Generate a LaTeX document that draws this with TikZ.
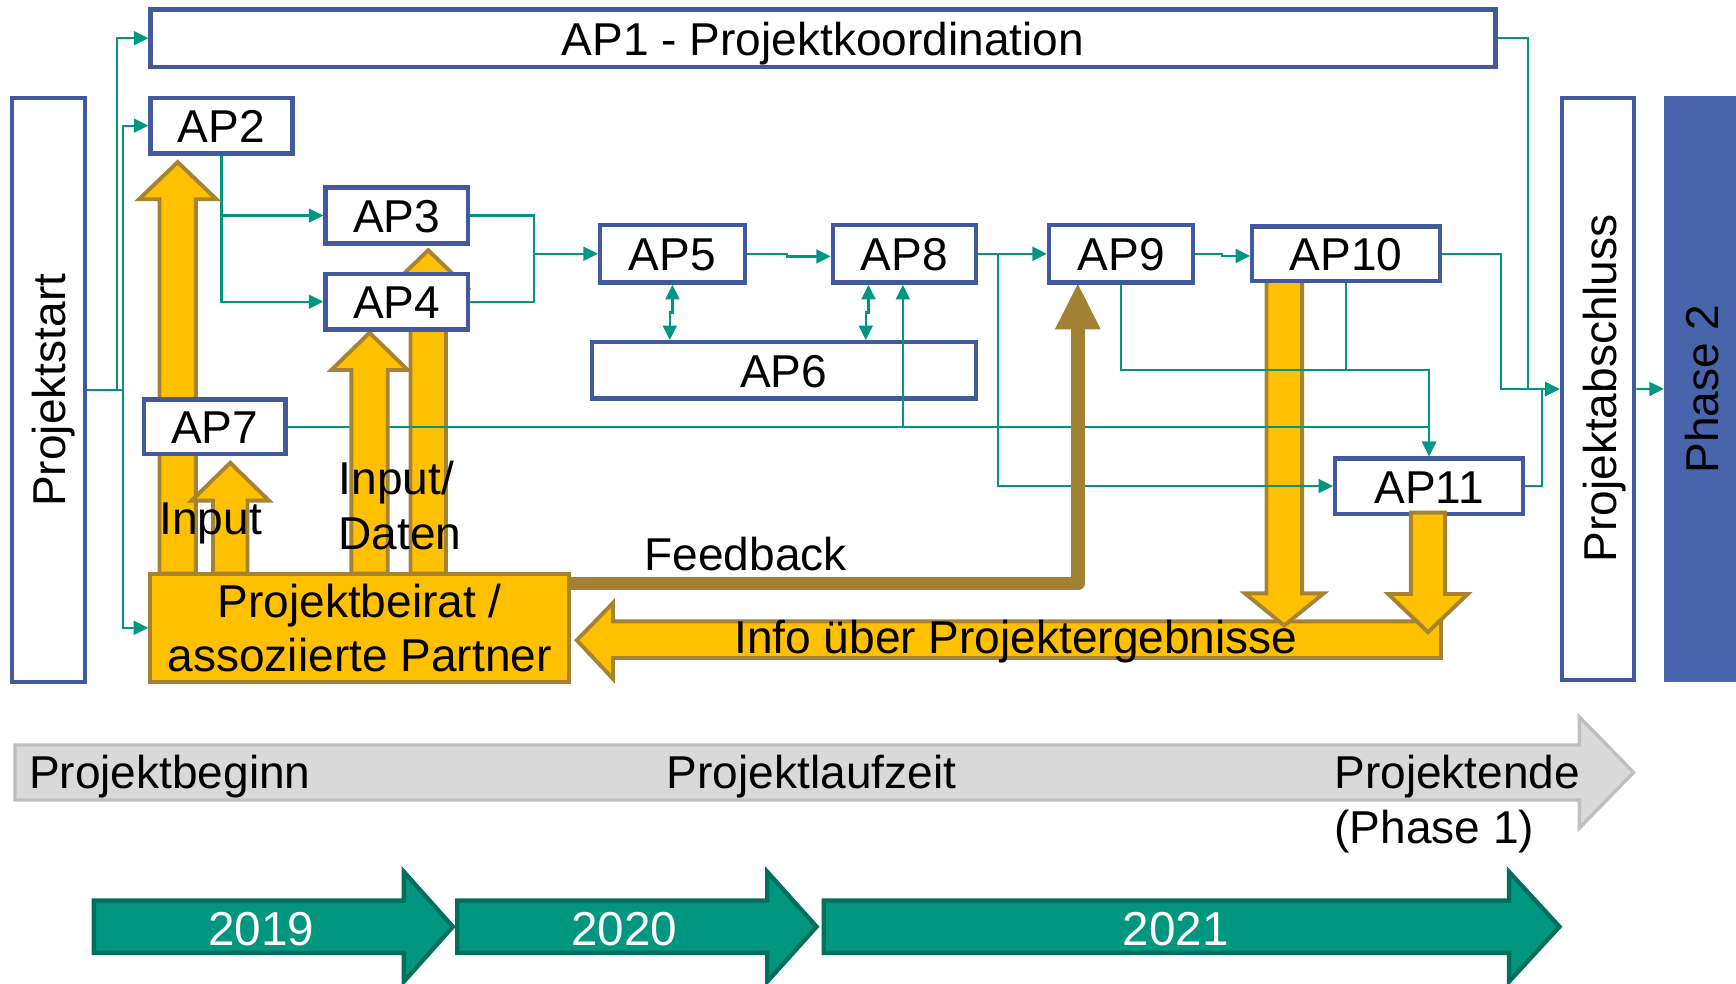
\documentclass[tikz,border=0pt]{standalone}
\usepackage{fontspec}
\setmainfont{Liberation Sans}
\usetikzlibrary{arrows.meta}
\definecolor{apblue}{RGB}{66,90,156}
\definecolor{phblue}{RGB}{72,100,170}
\definecolor{tealline}{RGB}{0,150,130}
\definecolor{gold}{RGB}{255,192,0}
\definecolor{goldedge}{RGB}{166,131,50}
\definecolor{fbbrown}{RGB}{163,129,50}
\definecolor{grayfill}{RGB}{217,217,217}
\definecolor{grayedge}{RGB}{191,191,191}
\definecolor{yearfill}{RGB}{0,150,128}
\definecolor{yearedge}{RGB}{0,112,92}
\newcommand{\apfont}{\fontsize{41.6}{48.2}\selectfont}
\newcommand{\yrfont}{\fontsize{43}{50}\selectfont}
\newcommand{\vblock}[6]{% x, tip, base, end, shaft half, head half
  \filldraw[blockarr] ({#1-#5},#4) -- ({#1-#5},#3) -- ({#1-#6},#3) -- (#1,#2) -- ({#1+#6},#3) -- ({#1+#5},#3) -- ({#1+#5},#4) -- cycle;}
\newcommand{\yrarrow}[3]{% left, head x, tip x
  \filldraw[yrarr] (#1,813.4) -- (#2,813.4) -- (#2,787.5) -- (#3,837) -- (#2,886.5) -- (#2,860.6) -- (#1,860.6) -- cycle;}
\pgfdeclarelayer{lA}
\pgfdeclarelayer{lB}
\pgfdeclarelayer{lC}
\pgfdeclarelayer{lD}
\pgfsetlayers{lA,lB,lC,main,lD}
\tikzset{
  ap/.style={draw=apblue, line width=4pt, fill=white, font=\apfont, text height=31pt, text depth=0pt, inner sep=0pt},
  tl/.style={draw=tealline, line width=2pt},
  conn/.style={tl, -{Triangle[length=13pt,width=12.5pt]}},
  dbl/.style={tl, {Triangle[length=13pt,width=12.5pt]}-{Triangle[length=13pt,width=12.5pt]}},
  blockarr/.style={fill=gold, draw=goldedge, line width=3.5pt},
  yrarr/.style={fill=yearfill, draw=yearedge, line width=4pt},
  txt/.style={font=\apfont, inner sep=0pt},
}
\begin{document}
\begin{tikzpicture}[x=1pt,y=-1pt]
\useasboundingbox (0,0) rectangle (1568,888);

% ---------- boxes ----------
\node[ap, minimum width=1214.7pt, minimum height=51.7pt] (AP1) at (743.3,34.5) {AP1 - Projektkoordination};
\node[ap, minimum width=128pt, minimum height=50.2pt] (AP2) at (200,113.5) {AP2};
\node[ap, minimum width=128.5pt, minimum height=50.6pt] (AP3) at (358.2,194.7) {AP3};
\node[ap, minimum width=128.5pt, minimum height=50.2pt] (AP4) at (358.2,272.5) {AP4};
\node[ap, minimum width=130.8pt, minimum height=52.3pt] (AP5) at (607.4,229.2) {AP5};
\node[ap, minimum width=129pt, minimum height=52.3pt] (AP8) at (816.8,229.2) {AP8};
\node[ap, minimum width=130.2pt, minimum height=52.3pt] (AP9) at (1012.6,229.2) {AP9};
\node[ap, minimum width=169.5pt, minimum height=49.6pt] (AP10) at (1215.8,229.2) {AP10};
\node[ap, minimum width=346.9pt, minimum height=50.8pt] (AP6) at (707.9,334.5) {AP6};
\node[ap, minimum width=128pt, minimum height=49.5pt] (AP7) at (194,385.5) {AP7};
\node[ap, minimum width=169.6pt, minimum height=50.1pt] (AP11) at (1290.8,439) {AP11};
\node[ap, minimum width=66.1pt, minimum height=527.4pt] (PS) at (43.8,352.1) {};
\node[ap, minimum width=65.3pt, minimum height=525.3pt] (PA) at (1443.3,351.4) {};
\node[fill=phblue, inner sep=0pt, minimum width=65pt, minimum height=529pt] (PH2) at (1535.5,351.2) {};
\node[fill=gold, draw=goldedge, line width=3.5pt, minimum width=378.6pt, minimum height=97.9pt,
      font=\apfont, align=center, inner sep=0pt] (PB) at (324.85,567.1) {Projektbeirat /\\assoziierte Partner};

% ---------- timeline ----------
\filldraw[fill=grayfill, draw=grayedge, line width=3pt]
  (13.5,672.9) -- (1426.5,672.9) -- (1426.5,647.5) -- (1475.5,697.7) -- (1426.5,748) -- (1426.5,722.6) -- (13.5,722.6) -- cycle;
\yrarrow{84.8}{364.8}{409}
\yrarrow{413}{693}{737.5}
\yrarrow{744}{1363}{1408.5}

% ---------- layer A: back arrows ----------
\begin{pgfonlayer}{lA}
  \filldraw[blockarr] (521,578.3) -- (553.7,544.5) -- (553.7,561.2) -- (1301.5,561.2) -- (1301.5,594.3) -- (553.7,594.3) -- (553.7,613.2) -- cycle;
  \vblock{1160}{565}{536}{250}{16.1}{35.5}
  \vblock{386.8}{226}{259.7}{518}{16}{35}
\end{pgfonlayer}

% ---------- layer B: teal connectors ----------
\begin{pgfonlayer}{lB}
  \coordinate (v1) at (105.4,352.1);
  \coordinate (v2) at (111.3,352.1);
  \draw[tl] (PS.east) -- (v2);
  \draw[conn] (v1) |- (AP1.west);
  \draw[conn] (v2) |- (AP2.west);
  \draw[conn] (v2) |- (PB.west);
  \draw[conn] (AP2.south) |- (AP3.west);
  \draw[conn] (AP2.south) |- (AP4.west);
  \coordinate (j1) at (482.2,229.2);
  \draw[tl] (AP3.east) -| (j1) |- (AP4.east);
  \draw[conn] (j1) -- (AP5.west);
  \draw[conn] (AP5.east) -- ++(36.3,0) |- ([yshift=-2.4pt]AP8.west);
  \draw[dbl] (AP5.south) -- ++(0,25) -- ++(-2.4,0) coordinate (t1) -- (t1 |- AP6.north);
  \draw[dbl] ([xshift=-32.4pt]AP8.south) -- ++(0,25) -- ++(-2.4,0) coordinate (t2) -- (t2 |- AP6.north);
  \coordinate (j5) at (815.5,385.5);
  \draw[tl] (AP7.east) -- (j5);
  \draw[conn] (AP7.east) -| (AP11.north);
  \draw[conn] (AP8.east) -- (AP9.west);
  \coordinate (j2) at (901.3,229.2);
  \draw[conn] (j2) |- (AP11.west);
  \draw[conn] (AP9.east) -- ++(23.8,0) |- ([yshift=-2pt]AP10.west);
  \coordinate (j3) at (1290.8,333.9);
  \draw[conn] (AP9.south) |- (j3) -- (AP11.north);
  \draw[tl] (AP10.south) -- (AP10.south |- j3);
  \coordinate (k1) at (1380.2,351.4);
  \coordinate (k2) at (1355.6,351.4);
  \coordinate (k3) at (1393,351.4);
  \draw[conn] (AP1.east) -| (k1) -- (PA.west);
  \draw[conn] (AP10.east) -| (k2) -- (PA.west);
  \draw[tl] (AP11.east) -| (k3);
  \draw[conn] (PA.east) -- (PH2.west);
\end{pgfonlayer}

% ---------- layer C: front arrows ----------
\begin{pgfonlayer}{lC}
  \vblock{333.8}{300.5}{334.2}{518}{16.4}{34.5}
  \vblock{160.5}{146.4}{180}{518}{16.4}{35}
  \vblock{208}{418}{452.2}{518}{15.6}{35}
  \draw[fbbrown, line width=12.5pt, line join=round] ([yshift=-10.6pt]PB.north east) -| (973.5,297);
  \fill[fbbrown] (952.8,297.5) -- (973.5,256.5) -- (994.2,297.5) -- cycle;
\end{pgfonlayer}

% ---------- layer D: top arrows and texts ----------
\begin{pgfonlayer}{lD}
  \draw[conn] (j5) -- (j5 |- AP8.south);
  \vblock{1289.8}{571}{536.5}{463}{15.5}{36}
  \node[txt, rotate=90, anchor=base] (tPS) at (58.8,352.5) {Projektstart};
  \node[txt, rotate=90, anchor=base] (tPA) at (1459.7,350.8) {Projektabschluss};
  \node[txt, rotate=90, anchor=base] (tPH) at (1552.5,351.5) {Phase 2};
  \node[txt, anchor=base west] (tIn) at (143.8,483.2) {Input};
  \node[txt, anchor=north west, align=left, font=\fontsize{41.6}{49.7}\selectfont] (tInD) at (305.7,416.2) {Input/\\Daten};
  \node[txt, anchor=base west] (tFb) at (582,514.9) {Feedback};
  \node[txt, anchor=base west] (tInfo) at (663,590.1) {Info über Projektergebnisse};
  \node[txt, anchor=base west] (tBeg) at (26,712) {Projektbeginn};
  \node[txt, anchor=base] (tLauf) at (733,712) {Projektlaufzeit};
  \node[txt, anchor=base west] (tEnd) at (1205,712) {Projektende};
  \node[txt, anchor=base west] (tPh1) at (1205,761.7) {(Phase 1)};
  \node[txt, anchor=base, text=white, font=\yrfont] (y19) at (236,853.6) {2019};
  \node[txt, anchor=base, text=white, font=\yrfont] (y20) at (564,853.6) {2020};
  \node[txt, anchor=base, text=white, font=\yrfont] (y21) at (1062,853.6) {2021};
\end{pgfonlayer}
\end{tikzpicture}
\end{document}
